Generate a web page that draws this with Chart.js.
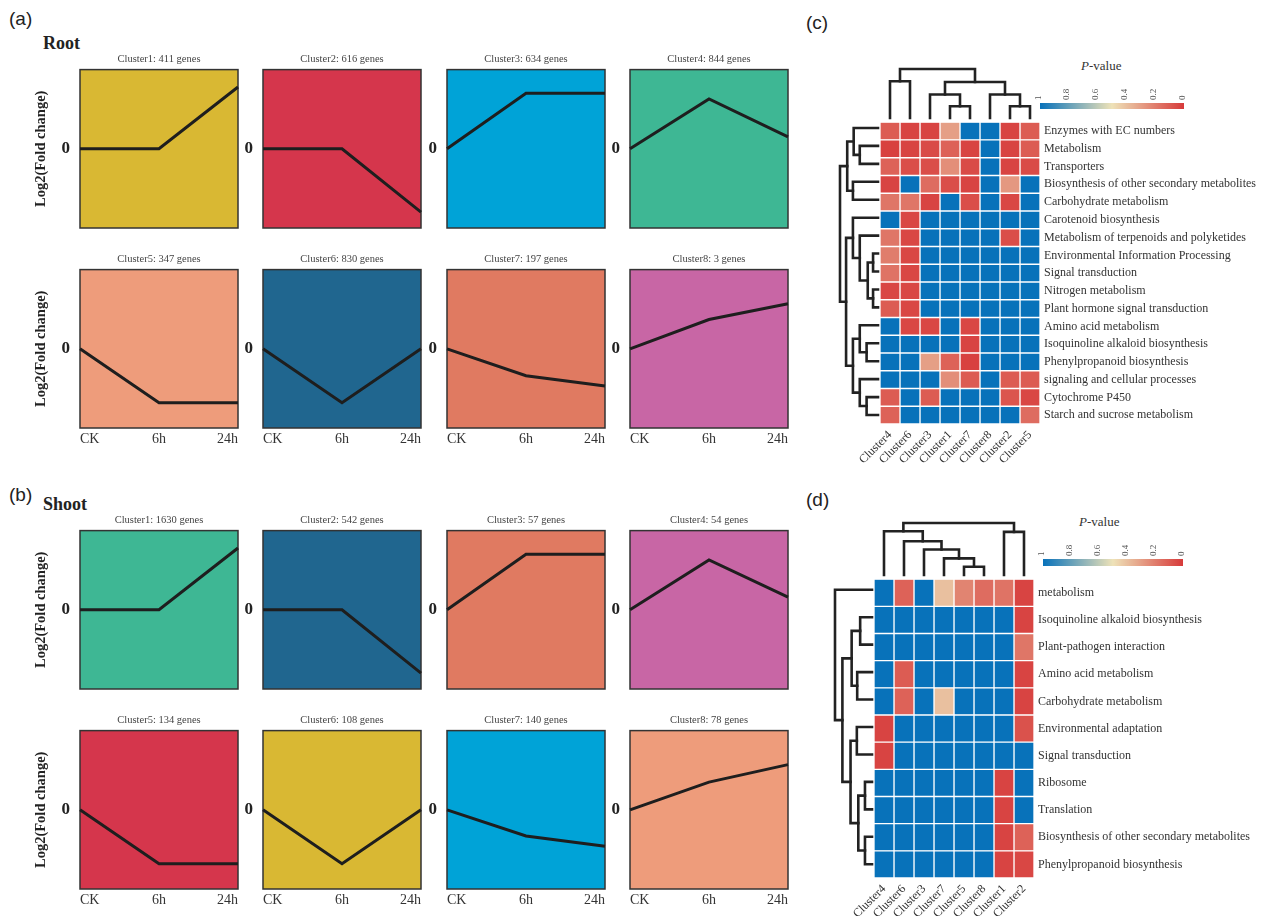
<!DOCTYPE html>
<html>
<head>
<meta charset="utf-8">
<script src="https://cdn.jsdelivr.net/npm/chart.js@4.4.1/dist/chart.umd.min.js"></script>
<style>
  body { margin: 0; background: #fff; width: 1268px; height: 916px; overflow: hidden; position: relative; font-family: "Liberation Serif", serif; }
  canvas { position: absolute; }
  .lbl { position: absolute; white-space: nowrap; color: #222; line-height: 1; }
  .tag { font: 19px "Liberation Sans", Arial, sans-serif; }
  .sec { font: bold 18px "Liberation Serif", serif; }
  .pv { font: 13px "Liberation Serif", serif; color: #333; }
</style>
</head>
<body>
<div class="lbl tag" style="left:9px;top:8px">(a)</div>
<div class="lbl sec" style="left:43px;top:33px">Root</div>
<div class="lbl tag" style="left:9px;top:484px">(b)</div>
<div class="lbl sec" style="left:43px;top:494px">Shoot</div>
<div class="lbl tag" style="left:806px;top:12px">(c)</div>
<div class="lbl tag" style="left:806px;top:489px">(d)</div>
<div class="lbl pv" style="left:1081px;top:58px"><i>P</i>-value</div>
<div class="lbl pv" style="left:1079px;top:514px"><i>P</i>-value</div>

<script>
const serif = "'Liberation Serif', 'Times New Roman', serif";
Chart.defaults.font.family = serif;

// === expression profiles (a) root, (b) shoot ===
const timePoints = ["CK", "6h", "24h"];

const rootTitles = ["Cluster1: 411 genes", "Cluster2: 616 genes", "Cluster3: 634 genes", "Cluster4: 844 genes",
                    "Cluster5: 347 genes", "Cluster6: 830 genes", "Cluster7: 197 genes", "Cluster8: 3 genes"];
const rootProfiles = [[0, 0, 0.78], [0, 0, -0.8], [0, 0.7, 0.7], [0, 0.63, 0.15],
                      [0, -0.68, -0.68], [0, -0.68, 0], [0, -0.34, -0.47], [0, 0.37, 0.57]];
const rootColors = ["#D9B833", "#D5364C", "#00A3D7", "#3EB794", "#EE9C7B", "#20668F", "#E07A61", "#C866A5"];

const shootTitles = ["Cluster1: 1630 genes", "Cluster2: 542 genes", "Cluster3: 57 genes", "Cluster4: 54 genes",
                     "Cluster5: 134 genes", "Cluster6: 108 genes", "Cluster7: 140 genes", "Cluster8: 78 genes"];
const shootProfiles = [[0, 0, 0.78], [0, 0, -0.8], [0, 0.7, 0.7], [0, 0.63, 0.16],
                       [0, -0.68, -0.68], [0, -0.68, 0], [0, -0.33, -0.46], [0, 0.35, 0.57]];
const shootColors = ["#3EB794", "#20668F", "#E07A61", "#C866A5", "#D5364C", "#D9B833", "#00A3D7", "#EE9C7B"];

// === KEGG enrichment (c) root ===
const rootEnrichCols = ["Cluster4", "Cluster6", "Cluster3", "Cluster1", "Cluster7", "Cluster8", "Cluster2", "Cluster5"];
const rootEnrichRows = ["Enzymes with EC numbers", "Metabolism", "Transporters", "Biosynthesis of other secondary metabolites",
  "Carbohydrate metabolism", "Carotenoid biosynthesis", "Metabolism of terpenoids and polyketides",
  "Environmental Information Processing", "Signal transduction", "Nitrogen metabolism", "Plant hormone signal transduction",
  "Amino acid metabolism", "Isoquinoline alkaloid biosynthesis", "Phenylpropanoid biosynthesis",
  "signaling and cellular processes", "Cytochrome P450", "Starch and sucrose metabolism"];
const rootPvals = [
  [0.10, 0.03, 0.03, 0.30, 1, 1, 0.03, 0.10],
  [0.02, 0.03, 0.05, 0.12, 0.03, 1, 0.03, 0.10],
  [0.12, 0.06, 0.06, 0.25, 0.05, 1, 0.03, 0.05],
  [0.03, 1, 0.15, 0.06, 0.03, 1, 0.28, 1],
  [0.18, 0.18, 0.03, 1, 0.06, 1, 0.04, 1],
  [1, 0.04, 1, 1, 1, 1, 1, 1],
  [0.18, 0.04, 1, 1, 1, 1, 0.06, 1],
  [0.20, 0.04, 1, 1, 1, 1, 1, 1],
  [0.17, 0.04, 1, 1, 1, 1, 1, 1],
  [0.04, 0.04, 1, 1, 1, 1, 1, 1],
  [0.10, 0.04, 1, 1, 1, 1, 1, 1],
  [1, 0.04, 0.04, 1, 0.04, 1, 1, 1],
  [1, 1, 1, 1, 0.03, 1, 1, 1],
  [1, 1, 0.30, 0.12, 0.02, 1, 1, 1],
  [1, 1, 1, 0.25, 0.10, 1, 0.10, 0.10],
  [0.10, 1, 0.10, 1, 1, 1, 0.08, 0.04],
  [0.12, 1, 1, 1, 1, 1, 1, 0.15]
];
// linkage: [childA, childB, height], leaves are 0..n-1, merge k is n+k
const rootColTree = [[3, 4, 0.24], [6, 7, 0.24], [2, 8, 0.48], [5, 9, 0.48], [0, 1, 0.75], [10, 11, 0.735], [12, 13, 1.0]];
const rootRowTree = [[1, 2, 0.48], [0, 17, 0.64], [3, 4, 0.66], [18, 19, 0.81],
  [7, 8, 0.13], [9, 10, 0.13], [21, 22, 0.27], [6, 23, 0.48], [5, 24, 0.66],
  [12, 13, 0.30], [11, 26, 0.48], [15, 16, 0.30], [14, 28, 0.48], [27, 29, 0.66],
  [25, 30, 0.84], [20, 31, 1.0]];

// === KEGG enrichment (d) shoot ===
const shootEnrichCols = ["Cluster4", "Cluster6", "Cluster3", "Cluster7", "Cluster5", "Cluster8", "Cluster1", "Cluster2"];
const shootEnrichRows = ["metabolism", "Isoquinoline alkaloid biosynthesis", "Plant-pathogen interaction",
  "Amino acid metabolism", "Carbohydrate metabolism", "Environmental adaptation", "Signal transduction",
  "Ribosome", "Translation", "Biosynthesis of other secondary metabolites", "Phenylpropanoid biosynthesis"];
const shootPvals = [
  [1, 0.12, 1, 0.40, 0.22, 0.15, 0.17, 0.03],
  [1, 1, 1, 1, 1, 1, 1, 0.03],
  [1, 1, 1, 1, 1, 1, 1, 0.18],
  [1, 0.10, 1, 1, 1, 1, 1, 0.03],
  [1, 0.12, 1, 0.40, 1, 1, 1, 0.03],
  [0.03, 1, 1, 1, 1, 1, 1, 0.07],
  [0.03, 1, 1, 1, 1, 1, 1, 1],
  [1, 1, 1, 1, 1, 1, 0.03, 1],
  [1, 1, 1, 1, 1, 1, 0.03, 1],
  [1, 1, 1, 1, 1, 1, 0.03, 0.12],
  [1, 1, 1, 1, 1, 1, 0.03, 0.04]
];
const shootColTree = [[4, 5, 0.16], [3, 8, 0.32], [2, 9, 0.49], [1, 10, 0.65], [0, 11, 0.84], [6, 7, 0.83], [12, 13, 1.0]];
const shootRowTree = [[1, 2, 0.32], [3, 4, 0.40], [11, 12, 0.55], [5, 6, 0.41], [7, 8, 0.19], [9, 10, 0.19],
  [15, 16, 0.37], [14, 17, 0.58], [13, 18, 0.80], [0, 19, 1.0]];

const pTicks = [0, 0.2, 0.4, 0.6, 0.8, 1];

// === helpers ===
function makeCanvas(left, top, w, h) {
  const cv = document.createElement("canvas");
  cv.width = Math.round(w);
  cv.height = Math.round(h);
  cv.style.left = Math.round(left) + "px";
  cv.style.top = Math.round(top) + "px";
  document.body.appendChild(cv);
  return cv;
}

// blue (p=1) -> beige (p=0.5) -> red (p=0)
function pColor(p) {
  const red = [215, 58, 58], beige = [238, 226, 184], blue = [8, 114, 186];
  let a, b, t;
  if (p <= 0.5) { a = red; b = beige; t = p / 0.5; } else { a = beige; b = blue; t = (p - 0.5) / 0.5; }
  const c = a.map((v, i) => Math.round(v + (b[i] - v) * t));
  return `rgb(${c[0]},${c[1]},${c[2]})`;
}

const panelBox = {
  id: "panelBox",
  beforeDatasetsDraw(chart, args, opts) {
    const { ctx, chartArea: a } = chart;
    ctx.save();
    ctx.fillStyle = opts.color;
    ctx.fillRect(a.left, a.top, a.width, a.height);
    ctx.strokeStyle = "#333";
    ctx.lineWidth = 1.5;
    ctx.strokeRect(a.left, a.top, a.width, a.height);
    ctx.restore();
  }
};

// === one small cluster profile ===
function profileChart(boxLeft, boxTop, title, values, bg, col, bottomRow) {
  const yw = col === 0 ? 52 : 45;
  const cv = makeCanvas(boxLeft - yw, boxTop - 22, yw + 158 + 14, 22 + 158 + 26);
  new Chart(cv, {
    type: "line",
    data: {
      labels: timePoints,
      datasets: [{ data: values, borderColor: "#1e1e1e", borderWidth: 3, pointRadius: 0, tension: 0, fill: false }]
    },
    options: {
      responsive: false, animation: false, events: [],
      layout: { padding: { top: 0, right: 14, left: 0, bottom: 0 } },
      plugins: {
        legend: { display: false },
        tooltip: { enabled: false },
        title: { display: true, text: title, fullSize: false, color: "#444",
                 font: { family: serif, size: 10.5, weight: "normal", lineHeight: 1.2 }, padding: { top: 5, bottom: 4 } },
        panelBox: { color: bg }
      },
      scales: {
        x: {
          offset: false,
          grid: { display: false, drawTicks: false },
          border: { display: false },
          ticks: { display: bottomRow, align: "inner", color: "#333", font: { family: serif, size: 14 }, padding: 3, maxRotation: 0 },
          afterFit: s => { s.height = 26; }
        },
        y: {
          min: -1, max: 1,
          grid: { display: false, drawTicks: false },
          border: { display: false },
          ticks: { stepSize: 1, callback: v => (v === 0 ? "0" : ""), color: "#222",
                   font: { family: serif, size: 17, weight: "bold" }, padding: 10 },
          title: { display: col === 0, text: "Log2(Fold change)", color: "#222",
                   font: { family: serif, size: 14.5, weight: "bold" }, padding: { top: 5, bottom: 0 } },
          afterFit: s => { s.width = yw; }
        }
      }
    },
    plugins: [panelBox]
  });
}

const colLefts = [80, 263, 447, 630];
rootProfiles.forEach((v, i) =>
  profileChart(colLefts[i % 4], [70, 270][Math.floor(i / 4)], rootTitles[i], v, rootColors[i], i % 4, i >= 4));
shootProfiles.forEach((v, i) =>
  profileChart(colLefts[i % 4], [531, 731][Math.floor(i / 4)], shootTitles[i], v, shootColors[i], i % 4, i >= 4));

// === heatmap of enrichment p-values ===
function heatmapChart(areaLeft, areaTop, areaW, areaH, xAxisH, rows, cols, pvals) {
  const padL = 45, padT = 8;
  const cvLeft = areaLeft - padL, cvTop = areaTop - padT;
  const cvW = 1268 - cvLeft, cvH = padT + areaH + xAxisH;
  const cv = makeCanvas(cvLeft, cvTop, cvW, cvH);
  new Chart(cv, {
    type: "bar",
    data: {
      labels: rows,
      datasets: cols.map((c, j) => ({
        label: c,
        data: rows.map(() => 1),
        backgroundColor: rows.map((r, i) => pColor(pvals[i][j])),
        borderColor: "#fff",
        borderWidth: 1,
        borderSkipped: false,
        barPercentage: 1,
        categoryPercentage: 1
      }))
    },
    options: {
      indexAxis: "y",
      responsive: false, animation: false, events: [],
      layout: { padding: { left: padL, top: padT, right: 0, bottom: 0 } },
      plugins: { legend: { display: false }, tooltip: { enabled: false } },
      scales: {
        x: {
          type: "linear", stacked: true, min: 0, max: cols.length,
          grid: { display: false, drawTicks: false },
          border: { display: false },
          afterBuildTicks: s => { s.ticks = cols.map((c, j) => ({ value: j + 0.5 })); },
          ticks: { autoSkip: false, minRotation: 45, maxRotation: 45, padding: 4, color: "#333",
                   font: { family: serif, size: 12 }, callback: v => cols[Math.floor(v)] },
          afterFit: s => { s.height = xAxisH; }
        },
        y: {
          stacked: true, position: "right",
          grid: { display: false, drawTicks: false },
          border: { display: false },
          ticks: { autoSkip: false, padding: 4, color: "#333", font: { family: serif, size: 12 } },
          afterFit: s => { s.width = cvW - padL - areaW; }
        }
      }
    }
  });
}

// === dendrogram from a linkage list ===
function dendroChart(areaLeft, areaTop, areaW, areaH, tree, n, side) {
  const pad = 2;
  const cv = makeCanvas(areaLeft - pad, areaTop - pad, areaW + 2 * pad, areaH + 2 * pad);
  const pos = [], ht = [];
  for (let i = 0; i < n; i++) { pos.push(i); ht.push(0); }
  const datasets = [];
  tree.forEach(([a, b, h]) => {
    let pts = [[pos[a], ht[a]], [pos[a], h], [pos[b], h], [pos[b], ht[b]]];
    pts = pts.map(([p, v]) => (side === "top" ? { x: p, y: v } : { x: v, y: p }));
    datasets.push({ data: pts, showLine: true, borderColor: "#222", borderWidth: 2.6, pointRadius: 0,
                    fill: false, tension: 0, borderCapStyle: "square", borderJoinStyle: "miter", clip: false });
    pos.push((pos[a] + pos[b]) / 2);
    ht.push(h);
  });
  const posScale = { type: "linear", display: false, min: -0.5, max: n - 0.5 };
  const htScale = { type: "linear", display: false, min: 0, max: 1 };
  new Chart(cv, {
    type: "scatter",
    data: { datasets },
    options: {
      responsive: false, animation: false, events: [],
      layout: { padding: pad },
      plugins: { legend: { display: false }, tooltip: { enabled: false } },
      scales: side === "top"
        ? { x: posScale, y: htScale }
        : { x: Object.assign({}, htScale, { reverse: true }), y: Object.assign({}, posScale, { reverse: true }) }
    }
  });
}

// === colour key ===
function colorBar(areaLeft, areaTop, areaW, areaH) {
  const axisH = 24;
  const cv = makeCanvas(areaLeft - 10, areaTop - axisH, areaW + 22, areaH + axisH + 1);
  new Chart(cv, {
    type: "bar",
    data: {
      labels: ["P-value"],
      datasets: [{
        data: [[0, 1]],
        barPercentage: 1, categoryPercentage: 1, borderWidth: 0,
        backgroundColor: c => {
          const ch = c.chart;
          if (!ch.chartArea) return "#888";
          const x = ch.scales.x;
          const g = ch.ctx.createLinearGradient(x.getPixelForValue(1), 0, x.getPixelForValue(0), 0);
          for (let i = 0; i <= 20; i++) g.addColorStop(i / 20, pColor(1 - i / 20));
          return g;
        }
      }]
    },
    options: {
      indexAxis: "y",
      responsive: false, animation: false, events: [],
      layout: { padding: { left: 10, right: 12, top: 0, bottom: 1 } },
      plugins: { legend: { display: false }, tooltip: { enabled: false } },
      scales: {
        x: {
          type: "linear", position: "top", min: 0, max: 1, reverse: true,
          grid: { display: false, drawTicks: false },
          border: { display: false },
          afterBuildTicks: s => { s.ticks = pTicks.map(v => ({ value: v })); },
          ticks: { minRotation: 90, maxRotation: 90, padding: 3, labelOffset: 9, color: "#555",
                   font: { family: serif, size: 9 }, callback: v => String(+v.toFixed(1)) },
          afterFit: s => { s.height = axisH; }
        },
        y: { display: false }
      }
    }
  });
}

// (c) root
heatmapChart(880, 119, 160, 305, 50, rootEnrichRows, rootEnrichCols, rootPvals);
dendroChart(880, 69, 160, 49, rootColTree, rootEnrichCols.length, "top");
dendroChart(840, 119, 38, 305, rootRowTree, rootEnrichRows.length, "left");
colorBar(1040, 103, 144, 6);

// (d) shoot
heatmapChart(874, 576, 160, 302, 38, shootEnrichRows, shootEnrichCols, shootPvals);
dendroChart(874, 523, 160, 52, shootColTree, shootEnrichCols.length, "top");
dendroChart(835, 576, 37, 302, shootRowTree, shootEnrichRows.length, "left");
colorBar(1043, 559, 140, 7);
</script>
</body>
</html>
